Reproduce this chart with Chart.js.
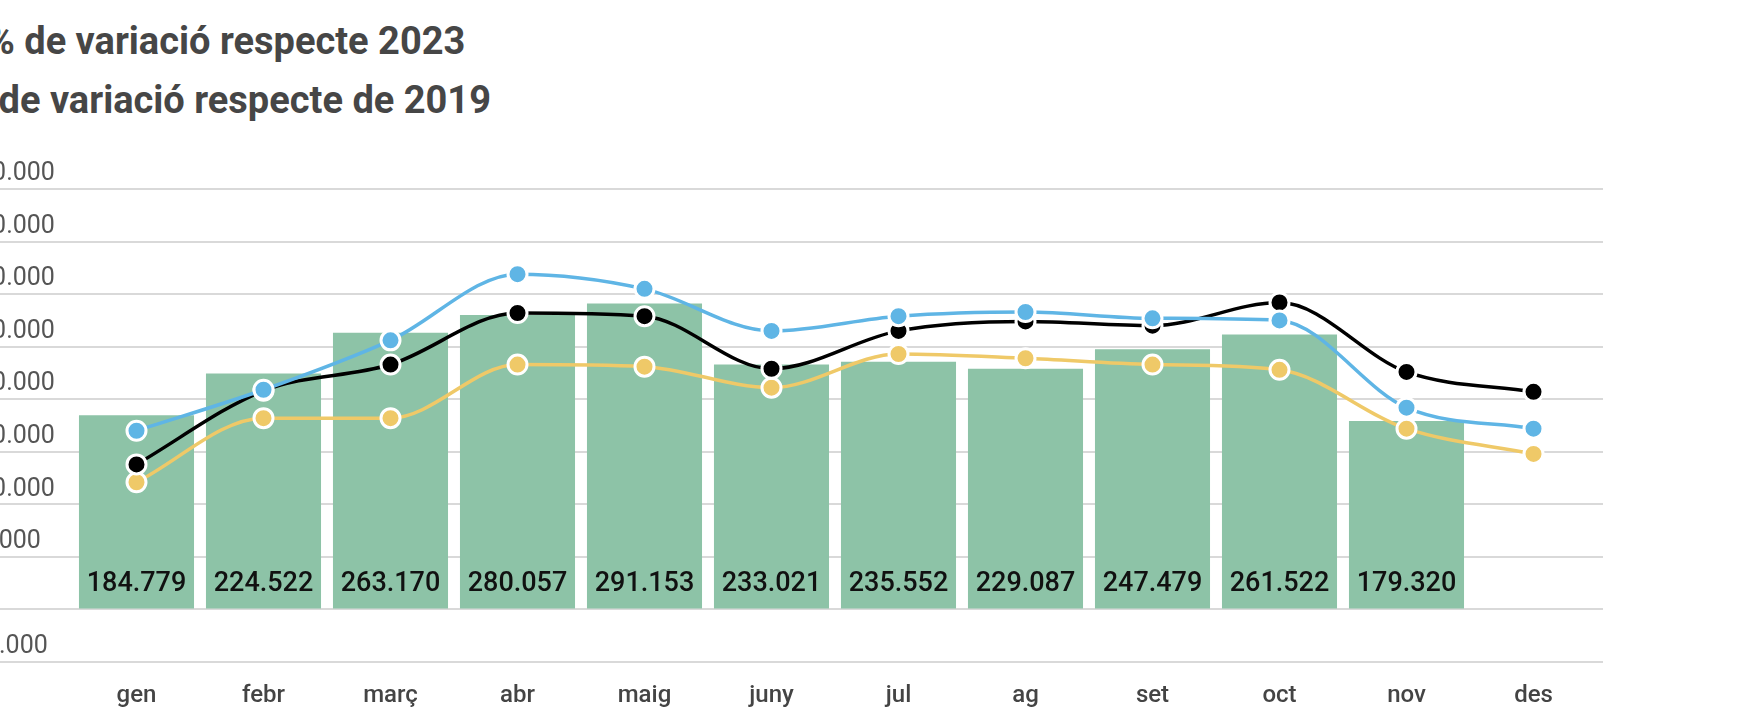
<!DOCTYPE html>
<html>
<head>
<meta charset="utf-8">
<script src="https://cdn.jsdelivr.net/npm/chart.js@4"></script>
<style>
  html, body { margin: 0; padding: 0; background: #fff; overflow: hidden; }
  body { width: 1750px; height: 720px; position: relative; }
  .title {
    position: absolute; left: -374px; width: 1200px;
    text-align: center; white-space: nowrap;
    font: 700 38px/38px Roboto, sans-serif; color: #464646;
  }
  #wrap { position: absolute; left: -36px; top: 0; width: 1786px; height: 720px; }
</style>
</head>
<body>
<div class="title" style="top:22px">% de variació respecte 2023</div>
<div class="title" style="top:81px">% de variació respecte de 2019</div>
<div id="wrap"><canvas id="chart"></canvas></div>
<script>
// mesos
const months = ["gen", "febr", "març", "abr", "maig", "juny", "jul", "ag", "set", "oct", "nov", "des"];

// barres (eix esquerre)
const totals = [184779, 224522, 263170, 280057, 291153, 233021, 235552, 229087, 247479, 261522, 179320, null];

// línies (eix ocult, %)
const varBlue = [17.0, 20.9, 25.6, 31.9, 30.5, 26.5, 27.9, 28.3, 27.7, 27.5, 19.2, 17.2];
const varBlack = [13.8, 20.8, 23.3, 28.2, 27.9, 22.9, 26.5, 27.4, 27.0, 29.2, 22.6, 20.7];
const varYellow = [12.1, 18.2, 18.2, 23.3, 23.1, 21.1, 24.3, 23.9, 23.3, 22.8, 17.2, 14.8];

const gridColor = "#d9d9d9";

function fmt(n) {
  const s = Math.abs(Math.round(n)).toString().replace(/\B(?=(\d{3})+(?!\d))/g, ".");
  return (n < 0 ? "-" : "") + s;
}

// valors al peu de cada barra
const barLabels = {
  id: "barLabels",
  afterDatasetDraw(chart, args) {
    if (args.meta.type !== "bar") return;
    const ctx = chart.ctx;
    const base = chart.scales.y.getPixelForValue(0);
    ctx.save();
    ctx.font = "500 27px Roboto, sans-serif";
    ctx.fillStyle = "#111";
    ctx.textAlign = "center";
    ctx.textBaseline = "middle";
    args.meta.data.forEach((bar, i) => {
      if (totals[i] == null) return;
      ctx.fillText(fmt(totals[i]), bar.x, base - 25);
    });
    ctx.restore();
  }
};

function lineSet(label, data, color, order) {
  return {
    type: "line",
    label: label,
    data: data,
    yAxisID: "y1",
    order: order,
    borderColor: color,
    borderWidth: 3.5,
    backgroundColor: color,
    pointBackgroundColor: color,
    pointBorderColor: "#fff",
    pointBorderWidth: 3,
    pointRadius: 9.5,
    pointHoverRadius: 9.5,
    cubicInterpolationMode: "monotone",
    fill: false
  };
}

const ctx = document.getElementById("chart").getContext("2d");
new Chart(ctx, {
  type: "bar",
  data: {
    labels: months,
    datasets: [
      lineSet("% de variació respecte 2023", varBlue, "#5fb5e5", 0),
      lineSet("variació", varBlack, "#000000", 1),
      lineSet("% de variació respecte de 2019", varYellow, "#efc968", 2),
      {
        type: "bar",
        label: "total",
        data: totals,
        yAxisID: "y",
        order: 3,
        backgroundColor: "#8dc3a7",
        categoryPercentage: 1,
        barPercentage: 0.906
      }
    ]
  },
  options: {
    responsive: true,
    maintainAspectRatio: false,
    animation: false,
    events: [],
    layout: { padding: { top: 189, left: 0, right: 147, bottom: 0 } },
    plugins: {
      legend: { display: false },
      tooltip: { enabled: false }
    },
    scales: {
      x: {
        grid: { display: false },
        border: { display: false },
        ticks: {
          color: "#444",
          font: { family: "Roboto", size: 24, weight: "500" },
          padding: 12
        },
        afterFit(scale) { scale.height = 58; }
      },
      y: {
        position: "left",
        min: -50000,
        max: 400000,
        border: { display: false },
        grid: { color: gridColor, lineWidth: 2, tickLength: 109 },
        ticks: {
          stepSize: 50000,
          crossAlign: "far",
          labelOffset: -15,
          color: "#555",
          font: { family: "Roboto", size: 25 },
          callback: (v) => fmt(v)
        },
        afterFit(scale) { scale.width = 109; }
      },
      y1: {
        position: "right",
        min: -5,
        max: 40,
        border: { display: false },
        grid: { color: gridColor, lineWidth: 2, drawOnChartArea: false, tickLength: 6 },
        ticks: { display: false, stepSize: 5 }
      }
    }
  },
  plugins: [barLabels]
});
</script>
</body>
</html>
